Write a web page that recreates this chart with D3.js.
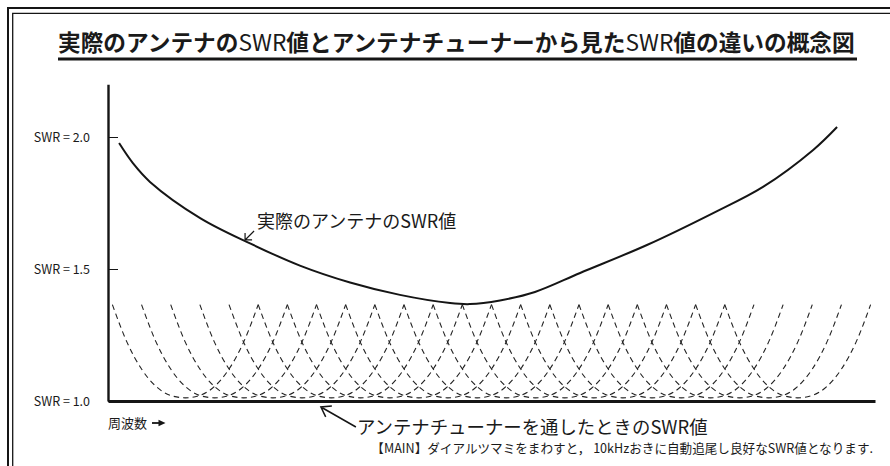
<!DOCTYPE html>
<html>
<head>
<meta charset="utf-8">
<script src="https://cdn.jsdelivr.net/npm/d3@7"></script>
<style>
	html, body { margin: 0; padding: 0; background: #fff; }
	svg { display: block; }
	text { font-family: 'Noto Sans CJK JP', 'Noto Sans', sans-serif; fill: #1a1a1a; }
</style>
</head>
<body>
<svg id="chart" width="890" height="466"></svg>
<script>
// y ticks (SWR)
const yTicks = [1.0, 1.5, 2.0]

// actual antenna SWR (frequency in kHz from the left edge of the axis)
const antennaFreq = [3.8, 8.6, 14.4, 31.6, 48.7, 65.8, 83, 100.1, 117.3, 124.1, 134.4, 146.4, 161.9, 184.8, 207.5, 224.6, 241.8, 250]
const antennaSwr = [1.977, 1.9, 1.83, 1.693, 1.597, 1.513, 1.449, 1.402, 1.371, 1.367, 1.381, 1.413, 1.485, 1.591, 1.712, 1.811, 1.951, 2.038]

// tuner re-tunes every 10 kHz: center of each tuned curve
const tunedCenters = [26.5, 36.5, 46.5, 56.5, 66.5, 76.5, 86.5, 96.5, 106.5, 116.5, 126.5,
	136.5, 146.5, 156.5, 166.5, 176.5, 186.5, 196.5, 206.5, 216.5, 226.5, 236.5]
// shape of one tuned curve: offset from its center (kHz) and SWR
const tunedOffset = [-25, -20, -15, -10, -5, 0, 5, 10, 15, 20, 25]
const tunedSwr = [1.365, 1.223, 1.121, 1.055, 1.021, 1.012, 1.021, 1.055, 1.121, 1.223, 1.365]

const svg = d3.select('#chart')
const ink = '#151515'

const x = d3.scaleLinear().domain([0, 263]).range([108, 875])
const y = d3.scaleLinear().domain([1, 2.2]).range([401, 84.2])

// frame (cut off at right and bottom)
svg.append('path')
	.attr('d', 'M8,470V8H895')
	.attr('fill', 'none')
	.attr('stroke', ink)
	.attr('stroke-width', 2)
svg.append('path')
	.attr('d', 'M12.7,470V13.3H895')
	.attr('fill', 'none')
	.attr('stroke', ink)
	.attr('stroke-width', 1.3)

// title, sized to fit over the underline
const title = svg.append('text')
	.attr('x', 58)
	.attr('y', 51)
	.attr('font-size', 24)
	.attr('font-weight', 'bold')
title.append('tspan').text('実際のアンテナの')
title.append('tspan').attr('font-weight', 'normal').text('SWR')
title.append('tspan').text('値とアンテナチューナーから見た')
title.append('tspan').attr('font-weight', 'normal').text('SWR')
title.append('tspan').text('値の違いの概念図')
const tw = title.node().getComputedTextLength()
if (tw > 0) title.attr('font-size', (24 * 797) / tw)
svg.append('rect')
	.attr('x', 58)
	.attr('y', 57.5)
	.attr('width', 799)
	.attr('height', 3)
	.attr('fill', ink)

// tuned curves
const line = d3
	.line()
	.x(d => x(d[0]))
	.y(d => y(d[1]))
	.curve(d3.curveMonotoneX)

svg.append('g')
	.attr('class', 'tuned')
	.selectAll('path')
	.data(tunedCenters)
	.enter()
	.append('path')
	.attr('d', c => line(tunedOffset.map((o, i) => [c + o, tunedSwr[i]])))
	.attr('fill', 'none')
	.attr('stroke', '#222')
	.attr('stroke-width', 1.1)
	.attr('stroke-dasharray', '5.5,4')

// actual antenna curve
svg.append('path')
	.attr('d', line.curve(d3.curveCatmullRom.alpha(0.5))(antennaFreq.map((f, i) => [f, antennaSwr[i]])))
	.attr('fill', 'none')
	.attr('stroke', ink)
	.attr('stroke-width', 2)

// axes
const yAxis = svg.append('g')
	.attr('transform', `translate(${x(0)},0)`)
	.call(
		d3.axisLeft(y)
			.tickValues(yTicks)
			.tickSize(-10)
			.tickSizeOuter(0)
			.tickPadding(18)
			.tickFormat(d => `SWR = ${d.toFixed(1)}`)
	)
yAxis.select('.domain').attr('stroke', ink).attr('stroke-width', 2.4)
yAxis.selectAll('.tick line').attr('stroke', ink).attr('stroke-width', 1)
yAxis.selectAll('.tick text')
	.attr('font-size', 12.5)
	.attr('font-family', "'Noto Sans CJK JP', sans-serif")
	.attr('fill', '#222')

const xAxis = svg.append('g')
	.attr('transform', `translate(0,${y(1)})`)
	.call(d3.axisBottom(x).tickValues([]).tickSizeOuter(0))
xAxis.select('.domain').attr('stroke', ink).attr('stroke-width', 2.8)

// x label with arrow
svg.append('text')
	.attr('x', x(0))
	.attr('y', 428)
	.attr('font-size', 13)
	.text('周波数')
svg.append('path')
	.attr('d', 'M152,423H160')
	.attr('stroke', ink)
	.attr('stroke-width', 1.8)
svg.append('path')
	.attr('d', 'M158.5,419.8L165.5,423L158.5,426.2Z')
	.attr('fill', ink)

// annotation: actual antenna
const tip1 = [x(47), y(1.61)]
svg.append('path')
	.attr('d', `M${tip1[0] + 9},${tip1[1] - 9}L${tip1[0]},${tip1[1]}M${tip1[0] + 7},${tip1[1]}H${tip1[0]}V${tip1[1] - 7}`)
	.attr('fill', 'none')
	.attr('stroke', ink)
	.attr('stroke-width', 1.2)
svg.append('text')
	.attr('x', tip1[0] + 12)
	.attr('y', tip1[1] - 12)
	.attr('font-size', 18)
	.text('実際のアンテナのSWR値')

// annotation: tuner
const tip2 = [x(73), y(1) + 6]
const tail2 = [tip2[0] + 35, tip2[1] + 20]
const ang = Math.atan2(tail2[1] - tip2[1], tail2[0] - tip2[0])
const head = a => [tip2[0] + 11 * Math.cos(ang + a), tip2[1] + 11 * Math.sin(ang + a)]
const h1 = head(-0.6)
const h2 = head(0.6)
svg.append('path')
	.attr('d', `M${tail2}L${tip2}M${h1}L${tip2}L${h2}`)
	.attr('fill', 'none')
	.attr('stroke', ink)
	.attr('stroke-width', 1.5)
svg.append('text')
	.attr('x', tail2[0] + 1)
	.attr('y', 434)
	.attr('font-size', 18.4)
	.text('アンテナチューナーを通したときのSWR値')
svg.append('text')
	.attr('x', 873)
	.attr('y', 453)
	.attr('text-anchor', 'end')
	.attr('font-size', 12.6)
	.text('【MAIN】ダイアルツマミをまわすと， 10kHzおきに自動追尾し良好なSWR値となります.')
</script>
</body>
</html>
